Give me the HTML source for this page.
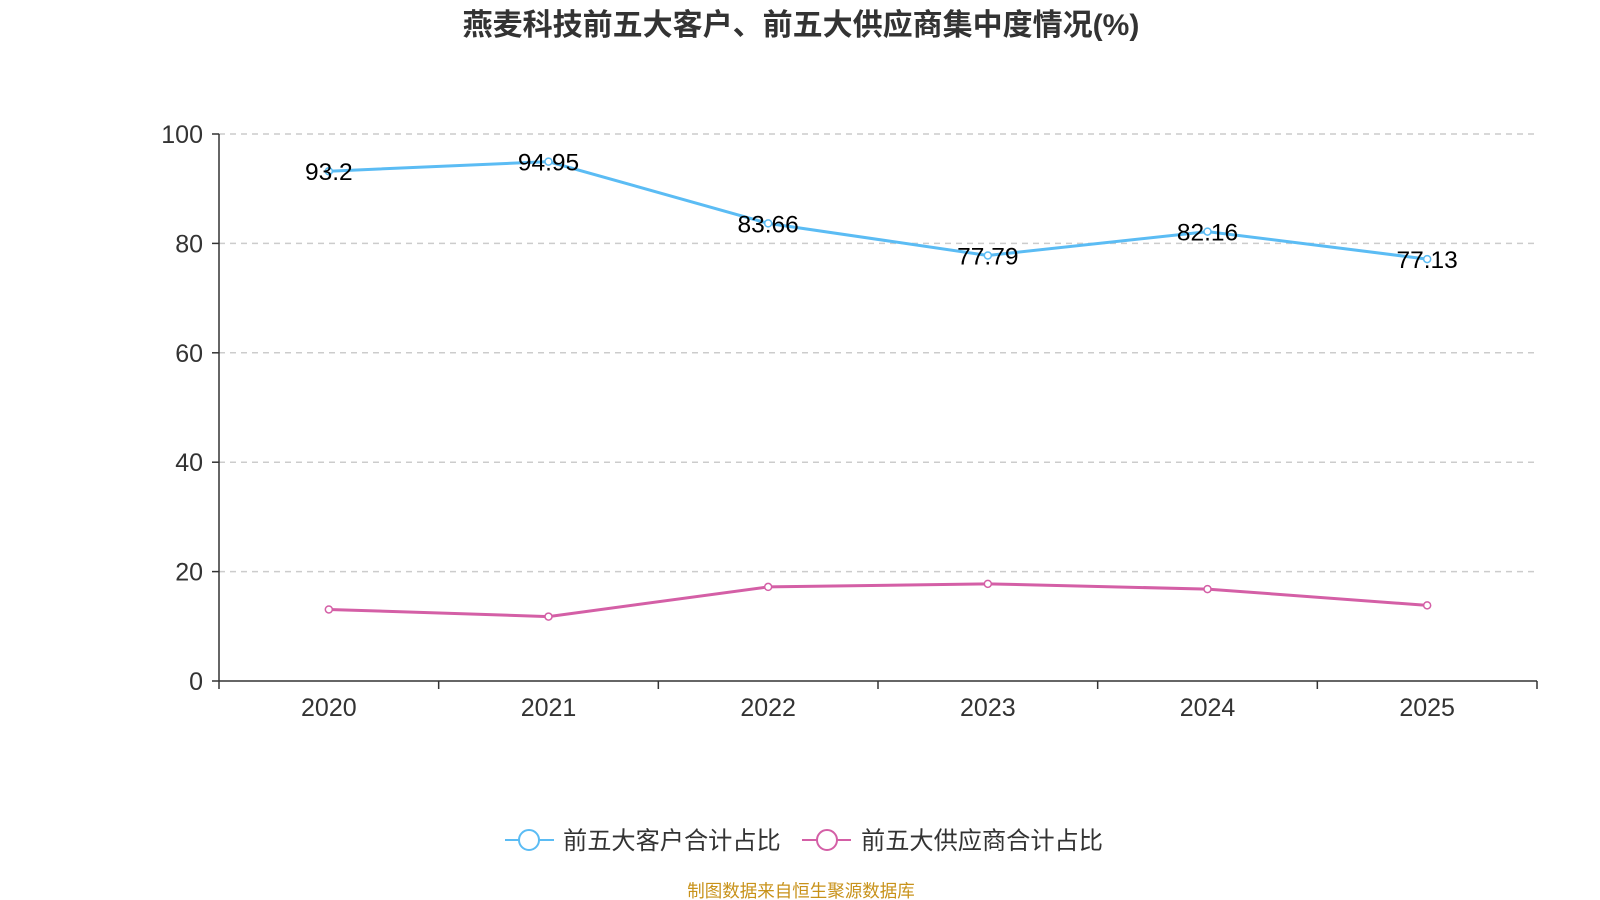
<!DOCTYPE html>
<html><head><meta charset="utf-8">
<style>
body{margin:0;background:#fff;}
svg{display:block;font-family:"Liberation Sans","Noto Sans CJK SC",sans-serif;}
</style></head>
<body>
<svg id="chart" width="1600" height="900">
<text x="801" y="35" text-anchor="middle" font-size="30" font-weight="bold" fill="#333">燕麦科技前五大客户、前五大供应商集中度情况(%)</text>
<g id="grid"></g>
<g id="axes"></g>
<g id="series"></g>
<g id="legend">
<line x1="505" y1="840" x2="554" y2="840" stroke="#5bbcf4" stroke-width="2"/>
<circle cx="529" cy="840" r="10" fill="#fff" stroke="#5bbcf4" stroke-width="2"/>
<text x="563" y="849" font-size="24.2" fill="#333">前五大客户合计占比</text>
<line x1="802" y1="840" x2="851" y2="840" stroke="#d45fa6" stroke-width="2"/>
<circle cx="827" cy="840" r="10" fill="#fff" stroke="#d45fa6" stroke-width="2"/>
<text x="861" y="849" font-size="24.2" fill="#333">前五大供应商合计占比</text>
</g>
<text x="801" y="897" text-anchor="middle" font-size="17.5" fill="#c8921a">制图数据来自恒生聚源数据库</text>
</svg>
<script>
const categories=["2020","2021","2022","2023","2024","2025"];
const customerValues=[93.2,94.95,83.66,77.79,82.16,77.13];
const supplierValues=[13.08,11.78,17.2,17.76,16.8,13.83];
const yTicks=[0,20,40,60,80,100];
const NS="http://www.w3.org/2000/svg";
const x0=219,x1=1537,yBase=681,yTop=134;
const band=(x1-x0)/categories.length;
const xs=i=>x0+band*(i+0.5);
const ys=v=>yBase-(v/100)*(yBase-yTop);
function mk(tag,attrs,parent,txt){const e=document.createElementNS(NS,tag);for(const k in attrs)e.setAttribute(k,attrs[k]);if(txt!==undefined)e.textContent=txt;parent.appendChild(e);return e;}
const grid=document.getElementById('grid'),axes=document.getElementById('axes'),ser=document.getElementById('series');
yTicks.forEach(t=>{
  const y=ys(t);
  if(t>0){const l=mk('line',{x1:x0,x2:x1,y1:y,y2:y,stroke:'#ccc','stroke-width':1.5,'stroke-dasharray':'6,5'},grid);
  
  }
  mk('line',{x1:x0-7,x2:x0,y1:y,y2:y,stroke:'#333','stroke-width':1.5},axes);
  const tx=mk('text',{x:x0-16,y:y+9,'text-anchor':'end','font-size':25,fill:'#333'},axes,t);
  
  
});
mk('line',{x1:x0,x2:x0,y1:yTop,y2:yBase,stroke:'#333','stroke-width':1.5},axes);
mk('line',{x1:x0,x2:x1,y1:yBase,y2:yBase,stroke:'#333','stroke-width':1.5},axes);
for(let i=0;i<=categories.length;i++){const x=x0+band*i;mk('line',{x1:x,x2:x,y1:yBase,y2:yBase+8,stroke:'#333','stroke-width':1.5},axes);}
categories.forEach((c,i)=>{
  const t=mk('text',{x:xs(i),y:716,'text-anchor':'middle','font-size':25,fill:'#333'},axes,c);
  
  
});
function drawSeries(vals,color,name,labels){
  const pts=vals.map((v,i)=>xs(i)+','+ys(v)).join(' ');
  const pl=mk('polyline',{points:pts,fill:'none',stroke:color,'stroke-width':3},ser);
  
  
  vals.forEach((v,i)=>{
    const c=mk('circle',{cx:xs(i),cy:ys(v),r:3.5,fill:'#fff',stroke:color,'stroke-width':1.5},ser);
    
    
    if(labels){const t=mk('text',{x:xs(i),y:ys(v)+9,'text-anchor':'middle','font-size':24.5,fill:'#000'},ser,v);
    
    }
  });
}
drawSeries(customerValues,'#5bbcf4','customer',true);
drawSeries(supplierValues,'#d45fa6','supplier',false);
</script>
</body></html>
